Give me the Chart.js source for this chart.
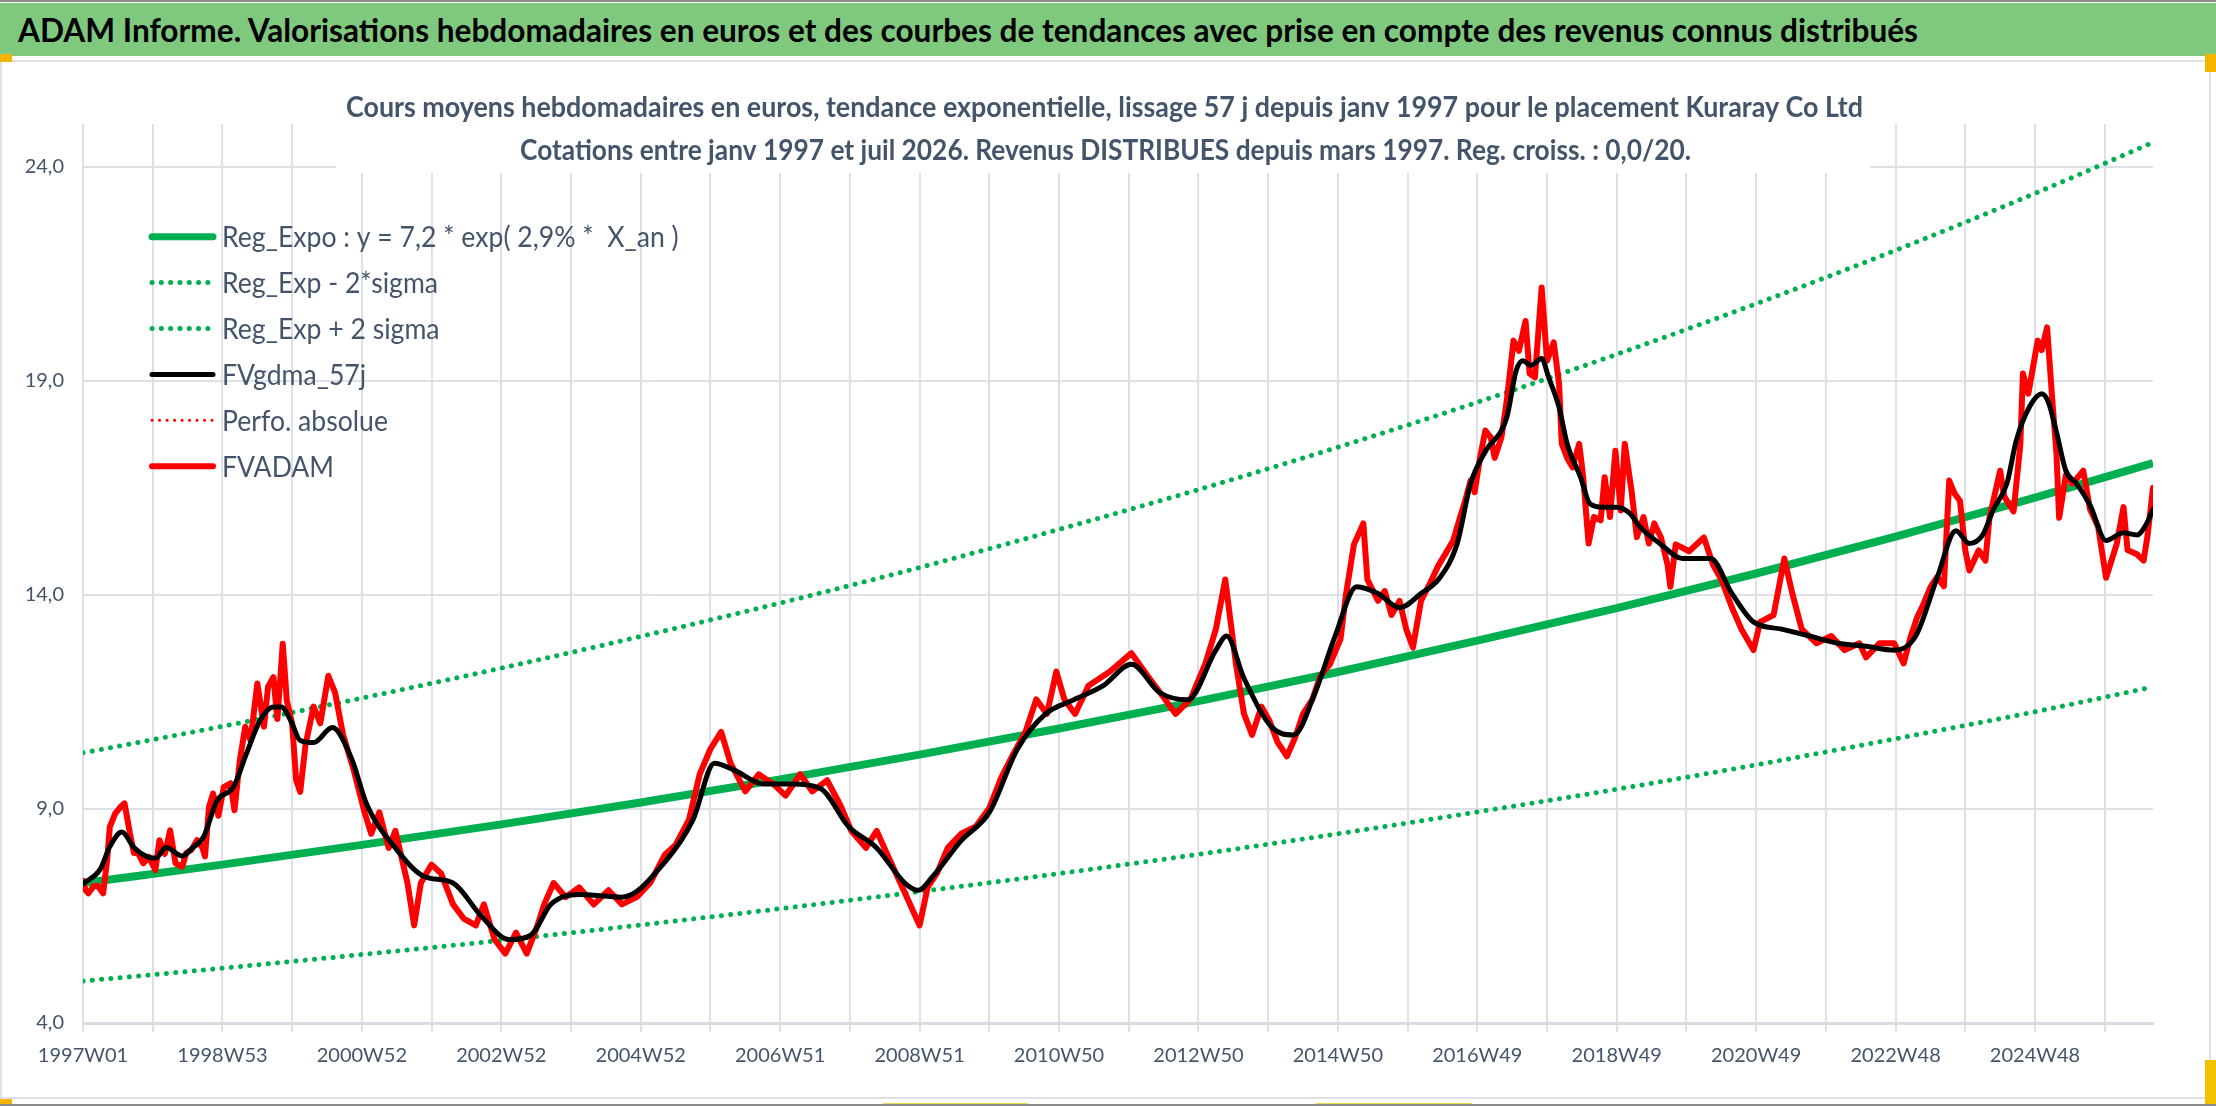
<!DOCTYPE html>
<html lang="fr">
<head>
<meta charset="utf-8">
<title>ADAM Informe - Kuraray Co Ltd</title>
<script src="https://cdn.jsdelivr.net/npm/chart.js@4.4.0/dist/chart.umd.min.js"></script>
<style>
  html, body { margin: 0; padding: 0; background: #fff; }
  #page { position: relative; width: 2216px; height: 1106px; overflow: hidden; background: #fff; }
  #ligneHaut { position: absolute; left: 0; top: 0; width: 2216px; height: 2px; background: #8c8c8c; }
  #ligneBas { position: absolute; left: 0; top: 1104px; width: 2216px; height: 2px; background: #8c8c8c; }
  #bandeau { position: absolute; left: 0; top: 3px; width: 2216px; height: 53px; background: #7fc97f; }
  #titreBandeau { position: absolute; left: 18px; top: 10.6px; font: bold 32px Lato, sans-serif; line-height: 38px;
                  color: #000; white-space: nowrap; transform-origin: 0 0; }
  #cadre { position: absolute; left: 0; top: 60px; width: 2207px; height: 1035px; border: 2px solid #dfe1e6; }
  .poignee { position: absolute; background: #f4b400; }
  #graph { position: absolute; left: 0; top: 0; }
</style>
</head>
<body>
<div id="page">
  <div id="ligneHaut"></div>
  <div id="bandeau"></div>
  <div id="titreBandeau">ADAM Informe. Valorisations hebdomadaires en euros et des courbes de tendances avec prise en compte des revenus connus distribués</div>
  <div id="cadre"></div>
  <div class="poignee" style="left:0;top:54px;width:12px;height:8px"></div>
  <div class="poignee" style="left:2205px;top:54px;width:11px;height:18px"></div>
  <div class="poignee" style="left:0;top:1099px;width:12px;height:7px"></div>
  <div class="poignee" style="left:2205px;top:1060px;width:11px;height:46px;background:#f2c200"></div>
  <div class="poignee" style="left:883px;top:1103px;width:145px;height:3px;background:#e8d84a"></div>
  <div class="poignee" style="left:1316px;top:1103px;width:156px;height:3px;background:#e8d84a"></div>
  <div id="ligneBas"></div>
  <canvas id="graph" width="2216" height="1106"></canvas>
</div>
<script>
// Axe des semaines : 0 = 1997W01, une graduation tous les 52 jalons, un libellé sur deux
const tickLabels = ['1997W01', '1998W53', '2000W52', '2002W52', '2004W52', '2006W51', '2008W51', '2010W50',
                    '2012W50', '2014W50', '2016W49', '2018W49', '2020W49', '2022W48', '2024W48'];
const yTicks = [4, 9, 14, 19, 24];

const legendLabels = ['Reg_Expo : y = 7,2 * exp( 2,9% *  X_an )', 'Reg_Exp - 2*sigma', 'Reg_Exp + 2 sigma',
                      'FVgdma_57j', 'Perfo. absolue', 'FVADAM'];
const titleLines = [
  'Cours moyens hebdomadaires en euros, tendance exponentielle, lissage 57 j depuis janv 1997 pour le placement Kuraray Co Ltd',
  'Cotations entre janv 1997 et juil 2026. Revenus DISTRIBUES depuis mars 1997. Reg. croiss. : 0,0/20.'
];

// Courbes de tendance
const weeksReg = [0, 104, 208, 312, 416, 520, 624, 728, 832, 936, 1040, 1144, 1248, 1352, 1456, 1544];
const regExpo  = [7.27, 7.70, 8.16, 8.64, 9.15, 9.69, 10.27, 10.88, 11.52, 12.20, 12.93, 13.69, 14.50, 15.36, 16.27, 17.08];
const regMoins = [4.98, 5.28, 5.60, 5.93, 6.29, 6.67, 7.07, 7.49, 7.94, 8.42, 8.93, 9.46, 10.03, 10.64, 11.27, 11.85];
const regPlus  = [10.31, 10.93, 11.59, 12.29, 13.03, 13.81, 14.64, 15.53, 16.46, 17.45, 18.50, 19.62, 20.80, 22.05, 23.38, 24.57];

// Moyenne lissée 57 j
const weeksGdma = [0, 13, 20, 29, 38, 48, 54, 62, 74, 82, 90, 100, 112, 122, 132, 142, 148, 155, 162, 172, 186, 200,
  212, 233, 254, 276, 297, 318, 334, 349, 370, 402, 434, 455, 471, 486, 508, 529, 550, 571, 592, 613, 623, 634, 655,
  676, 697, 718, 739, 761, 782, 803, 824, 845, 853, 866, 887, 903, 919, 934, 950, 966, 982, 998, 1012, 1025, 1035,
  1046, 1062, 1069, 1074, 1080, 1088, 1093, 1101, 1107, 1117, 1124, 1134, 1144, 1154, 1161, 1177, 1193, 1214, 1230,
  1246, 1267, 1288, 1309, 1330, 1351, 1367, 1383, 1397, 1407, 1417, 1425, 1435, 1442, 1452, 1461, 1466, 1472, 1479,
  1487, 1497, 1509, 1522, 1532, 1539, 1544];
const fvGdma = [7.25, 7.60, 8.12, 8.46, 8.10, 7.88, 7.85, 8.10, 7.90, 8.10, 8.35, 9.20, 9.50, 10.30, 11.06, 11.38, 11.38,
  11.06, 10.60, 10.55, 10.90, 10.20, 9.08, 8.09, 7.43, 7.27, 6.50, 5.95, 6.05, 6.77, 7.00, 6.94, 7.76, 8.75, 10.07,
  9.90, 9.58, 9.58, 9.48, 8.59, 8.09, 7.27, 7.10, 7.43, 8.26, 8.92, 10.40, 11.22, 11.55, 11.88, 12.38, 11.72, 11.55,
  12.71, 13.04, 12.05, 10.90, 10.73, 11.72, 13.04, 14.19, 14.03, 13.70, 14.03, 14.40, 15.20, 16.60, 17.35, 18.15,
  19.24, 19.47, 19.36, 19.52, 19.10, 18.38, 17.53, 16.75, 16.13, 16.05, 16.05, 15.90, 15.60, 15.18, 14.85, 14.85,
  14.03, 13.37, 13.20, 13.04, 12.87, 12.80, 12.71, 13.04, 14.40, 15.50, 15.20, 15.40, 16.00, 16.60, 17.60, 18.40,
  18.70, 18.50, 17.80, 16.90, 16.60, 16.10, 15.27, 15.45, 15.40, 15.65, 16.00];

// Valorisation hebdomadaire FVADAM
const weeksAdam = [0, 2, 4, 8, 11, 15, 18, 20, 24, 28, 31, 35, 38, 41, 45, 49, 54, 57, 61, 65, 69, 74, 77, 81, 85, 89,
  91, 94, 97, 101, 105, 110, 113, 117, 121, 125, 130, 135, 138, 142, 145, 149, 152, 156, 159, 162, 166, 172, 177, 183,
  188, 194, 202, 210, 215, 221, 228, 233, 242, 247, 252, 260, 267, 276, 284, 293, 299, 307, 315, 323, 331, 339, 344,
  351, 360, 370, 381, 392, 402, 413, 423, 434, 442, 452, 460, 468, 476, 483, 494, 504, 515, 524, 535, 544, 555, 565,
  573, 584, 592, 600, 613, 624, 630, 637, 645, 655, 666, 676, 685, 693, 703, 711, 719, 726, 732, 740, 750, 766, 782,
  794, 805, 815, 826, 837, 845, 852, 860, 866, 872, 879, 885, 891, 898, 904, 910, 917, 923, 930, 938, 942, 948, 955,
  958, 966, 971, 976, 982, 987, 992, 998, 1005, 1011, 1017, 1022, 1027, 1031, 1035, 1038, 1042, 1046, 1050, 1053,
  1058, 1062, 1067, 1071, 1076, 1079, 1083, 1088, 1092, 1097, 1101, 1103, 1107, 1111, 1116, 1119, 1123, 1127, 1132,
  1135, 1139, 1143, 1147, 1150, 1155, 1159, 1164, 1168, 1172, 1177, 1182, 1184, 1188, 1198, 1209, 1216, 1222, 1230,
  1237, 1246, 1251, 1261, 1269, 1275, 1282, 1293, 1304, 1314, 1325, 1330, 1340, 1351, 1358, 1363, 1368, 1373, 1378,
  1383, 1388, 1392, 1396, 1400, 1404, 1407, 1414, 1419, 1422, 1430, 1433, 1440, 1445, 1447, 1451, 1458, 1461, 1465,
  1469, 1472, 1474, 1479, 1484, 1492, 1497, 1503, 1509, 1517, 1522, 1525, 1532, 1537, 1540, 1544];
const fvAdam = [7.32, 7.10, 7.03, 7.20, 7.20, 7.03, 7.80, 8.58, 8.89, 9.05, 9.13, 8.43, 7.97, 7.97, 7.73, 7.88, 7.57,
  8.27, 7.95, 8.50, 7.73, 7.65, 7.97, 8.05, 8.27, 8.10, 7.89, 9.05, 9.36, 8.84, 9.51, 9.60, 8.97, 10.14, 10.92, 10.60,
  11.93, 10.92, 11.85, 12.08, 11.10, 12.86, 11.54, 10.99, 9.67, 9.40, 10.50, 11.39, 11.00, 12.11, 11.72, 10.73, 9.90,
  8.92, 8.42, 8.92, 8.09, 8.49, 7.27, 6.28, 7.27, 7.70, 7.50, 6.77, 6.44, 6.28, 6.77, 5.95, 5.62, 6.11, 5.62, 6.28,
  6.77, 7.27, 6.94, 7.17, 6.77, 7.10, 6.77, 6.94, 7.27, 7.93, 8.16, 8.75, 9.81, 10.40, 10.80, 10.07, 9.41, 9.81, 9.58,
  9.31, 9.81, 9.41, 9.67, 9.08, 8.49, 8.09, 8.49, 7.93, 7.04, 6.28, 7.17, 7.50, 8.09, 8.42, 8.59, 9.02, 9.74, 10.23,
  10.80, 11.56, 11.22, 12.21, 11.56, 11.22, 11.88, 12.21, 12.64, 12.11, 11.65, 11.22, 11.56, 12.38, 13.20, 14.36,
  12.38, 11.22, 10.73, 11.39, 11.06, 10.56, 10.23, 10.66, 11.22, 11.56, 12.11, 12.38, 12.97, 14.00, 15.18, 15.67,
  14.36, 13.86, 14.09, 13.53, 13.86, 13.20, 12.77, 13.86, 14.29, 14.69, 15.00, 15.27, 15.80, 16.20, 16.67, 16.40,
  17.20, 17.84, 17.68, 17.20, 17.68, 18.54, 19.94, 19.70, 20.40, 19.17, 19.08, 21.18, 19.47, 19.90, 18.93, 17.53,
  17.20, 16.98, 17.53, 16.75, 15.20, 15.82, 15.74, 16.75, 15.82, 17.37, 15.97, 17.53, 16.44, 15.35, 15.82, 15.20,
  15.67, 15.34, 14.69, 14.19, 15.18, 15.02, 15.34, 14.69, 14.36, 13.70, 13.20, 12.71, 13.37, 13.53, 14.85, 14.03,
  13.20, 12.87, 13.04, 12.71, 12.87, 12.54, 12.87, 12.87, 12.40, 13.00, 13.47, 13.80, 14.18, 14.42, 14.20, 16.67,
  16.37, 16.20, 15.04, 14.57, 15.04, 14.80, 15.80, 16.90, 16.30, 15.95, 17.50, 19.17, 18.70, 19.94, 19.72, 20.25,
  18.50, 17.30, 15.80, 16.80, 16.60, 16.90, 16.00, 15.60, 14.40, 15.20, 16.05, 15.05, 14.95, 14.80, 15.40, 16.50];

const texteCouleur = '#44546a';
const grilleCouleur = '#dde1e7';

// Titre du bandeau ajusté à la largeur de la capture
const titreBandeau = document.getElementById('titreBandeau');
titreBandeau.style.transform = 'scaleX(' + (1900 / titreBandeau.getBoundingClientRect().width) + ')';

function hasFont(name) {
  const c = document.createElement('canvas').getContext('2d');
  const s = 'mmmmllii1997W01,0';
  c.font = '40px monospace'; const a = c.measureText(s).width;
  c.font = '40px "' + name + '", monospace'; const b = c.measureText(s).width;
  c.font = '40px serif'; const a2 = c.measureText(s).width;
  c.font = '40px "' + name + '", serif'; const b2 = c.measureText(s).width;
  return a !== b || a2 !== b2;
}
const tickFont = hasFont('Liberation Sans Narrow')
  ? { family: 'Liberation Sans Narrow', size: 23 }
  : { family: 'Lato', size: 20 };

// texte écrit à une largeur donnée (police étroite de type Calibri)
function fillFitted(ctx, txt, x, y, width, align) {
  const k = width / ctx.measureText(txt).width;
  ctx.save();
  ctx.translate(x, y);
  ctx.scale(k, 1);
  ctx.textAlign = align;
  ctx.textBaseline = 'alphabetic';
  ctx.fillText(txt, 0, 0);
  ctx.restore();
}

const titrePlugin = {
  id: 'titreGraph',
  beforeDatasetsDraw(chart) {
    const ctx = chart.ctx;
    ctx.save();
    ctx.fillStyle = '#ffffff';
    ctx.fillRect(336, 120, 1534, 53);
    ctx.fillStyle = texteCouleur;
    ctx.font = 'bold 28px Lato';
    fillFitted(ctx, titleLines[0], 1104.5, 117, 1517, 'center');
    fillFitted(ctx, titleLines[1], 1105.5, 160, 1171, 'center');
    ctx.restore();
  }
};

const legendePlugin = {
  id: 'legende',
  afterDraw(chart) {
    const ctx = chart.ctx;
    ctx.save();
    ctx.font = '28px Lato';
    const k = 216 / ctx.measureText(legendLabels[1]).width;
    chart.data.datasets.forEach((ds, i) => {
      const y = 236.7 + i * 45.9;
      ctx.beginPath();
      ctx.strokeStyle = ds.borderColor;
      ctx.lineWidth = Math.min(ds.borderWidth, 7);
      ctx.lineCap = 'round';
      ctx.setLineDash(ds.borderDash || []);
      ctx.moveTo(152, y);
      ctx.lineTo(213, y);
      ctx.stroke();
      ctx.setLineDash([]);
      ctx.fillStyle = texteCouleur;
      ctx.save();
      ctx.translate(222, y + 10.5);
      ctx.scale(k, 1);
      ctx.textBaseline = 'alphabetic';
      ctx.fillText(ds.label, 0, 0);
      ctx.restore();
    });
    ctx.restore();
  }
};

const points = (xs, ys) => xs.map((x, i) => ({ x: x, y: ys[i] }));

const graph = new Chart(document.getElementById('graph').getContext('2d'), {
  type: 'line',
  data: {
    datasets: [{
      label: legendLabels[0],
      data: points(weeksReg, regExpo),
      borderColor: '#00b050',
      borderWidth: 8,
      cubicInterpolationMode: 'monotone',
      order: 2
    }, {
      label: legendLabels[1],
      data: points(weeksReg, regMoins),
      borderColor: '#00b050',
      borderWidth: 5,
      borderDash: [0.1, 9.2],
      borderCapStyle: 'round',
      cubicInterpolationMode: 'monotone',
      order: 3
    }, {
      label: legendLabels[2],
      data: points(weeksReg, regPlus),
      borderColor: '#00b050',
      borderWidth: 5,
      borderDash: [0.1, 9.2],
      borderCapStyle: 'round',
      cubicInterpolationMode: 'monotone',
      order: 4
    }, {
      label: legendLabels[3],
      data: points(weeksGdma, fvGdma),
      borderColor: '#000000',
      borderWidth: 5,
      borderCapStyle: 'round',
      cubicInterpolationMode: 'monotone',
      order: 0
    }, {
      label: legendLabels[4],
      data: [],
      borderColor: '#ff0000',
      borderWidth: 3,
      borderDash: [0.1, 7.4],
      borderCapStyle: 'round',
      order: 5
    }, {
      label: legendLabels[5],
      data: points(weeksAdam, fvAdam),
      borderColor: '#ff0000',
      borderWidth: 6,
      borderCapStyle: 'round',
      tension: 0,
      order: 1
    }]
  },
  options: {
    responsive: false,
    animation: false,
    devicePixelRatio: 1,
    layout: { padding: { left: 0, top: 124, right: 63, bottom: 0 } },
    elements: {
      point: { radius: 0, hoverRadius: 0 },
      line: { borderJoinStyle: 'round', fill: false }
    },
    plugins: {
      legend: { display: false },
      title: { display: false },
      tooltip: { enabled: false }
    },
    scales: {
      x: {
        type: 'linear',
        bounds: 'data',
        min: 0,
        max: 1544,
        afterBuildTicks: scale => {
          const t = [];
          for (let w = 0; w <= 1508; w += 52) t.push({ value: w });
          scale.ticks = t;
        },
        afterFit: scale => { scale.height = 83; },
        grid: { color: grilleCouleur, lineWidth: 2, drawTicks: true, tickLength: 9, tickColor: grilleCouleur },
        border: { display: true, color: '#d8dbe1', width: 3 },
        ticks: {
          autoSkip: false,
          maxRotation: 0,
          padding: 12,
          color: texteCouleur,
          font: tickFont,
          callback: (value, index) => (index % 2 === 0 ? tickLabels[index / 2] : '')
        }
      },
      y: {
        bounds: 'data',
        min: 4,
        max: 25,
        afterBuildTicks: scale => { scale.ticks = yTicks.map(v => ({ value: v })); },
        afterFit: scale => { scale.width = 83; },
        grid: { color: grilleCouleur, lineWidth: 2, drawTicks: false },
        border: { display: false },
        ticks: {
          padding: 19,
          color: texteCouleur,
          font: tickFont,
          callback: value => value.toFixed(1).replace('.', ',')
        }
      }
    }
  },
  plugins: [titrePlugin, legendePlugin]
});
</script>
</body>
</html>
